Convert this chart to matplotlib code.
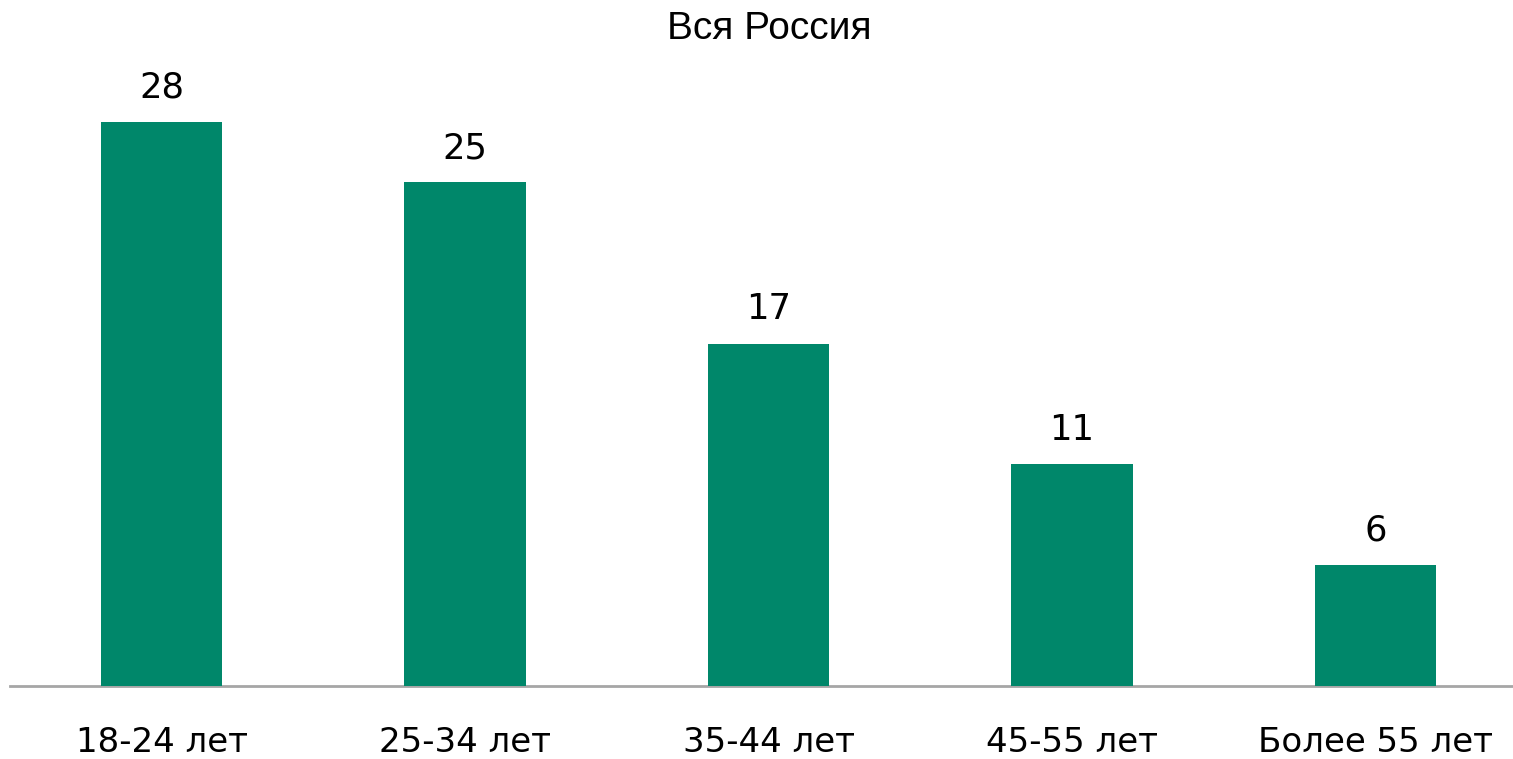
import matplotlib
matplotlib.use("Agg")
import matplotlib.pyplot as plt

# ── Data ────────────────────────────────────────────────────────────────────
categories = ["18-24 лет", "25-34 лет", "35-44 лет", "45-55 лет", "Более 55 лет"]
values = [28, 25, 17, 11, 6]
title = "Вся Россия"

BAR_COLOR = "#00876A"
AXIS_COLOR = "#A6A6A6"

plt.rcParams["font.family"] = ["DejaVu Sans"]

fig = plt.figure(figsize=(15.13, 7.59), dpi=100)
ax = fig.add_axes([10 / 1513, 73 / 759, 1517 / 1513, 686 / 759])

x = range(len(categories))
bars = ax.bar(x, values, width=0.4, color=BAR_COLOR, zorder=3)
for b, v in zip(bars, values):
    ax.text(b.get_x() + b.get_width() / 2, v + 1.2, str(v),
            ha="center", va="baseline", fontsize=25.5, color="black")

ax.set_xlim(-0.5, len(categories) - 0.5)
ax.set_ylim(0, 34.06)
ax.set_xticks(list(x))
ax.set_xticklabels(categories, fontsize=24.5)
ax.tick_params(axis="x", length=0, pad=28.5)
ax.set_yticks([])
for side in ["top", "right", "left"]:
    ax.spines[side].set_visible(False)
ax.spines["bottom"].set_color(AXIS_COLOR)
ax.spines["bottom"].set_linewidth(2)

fig.text(769 / 1513, 1 - 29 / 759, title, ha="center", va="center",
         fontsize=28, family="Liberation Sans")

fig.savefig("out.png", dpi=100)
